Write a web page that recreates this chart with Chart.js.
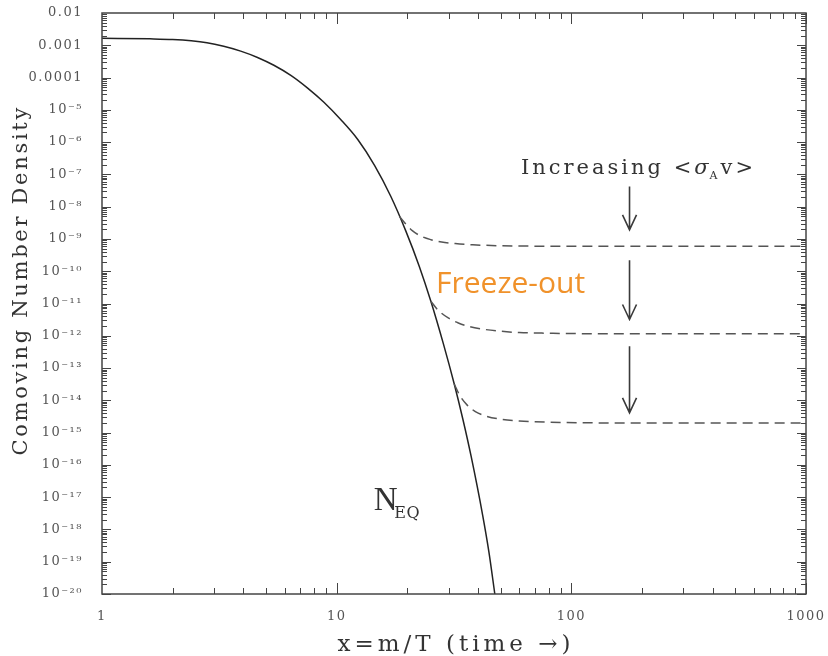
<!DOCTYPE html>
<html>
<head>
<meta charset="utf-8">
<script src="https://cdn.jsdelivr.net/npm/chart.js@4.4.1/dist/chart.umd.min.js"></script>
<style>
  html, body { margin: 0; padding: 0; background: #fff; }
</style>
</head>
<body>
<canvas id="freeze-chart" width="828" height="656"></canvas>
<script>
// tick values and labels
const xTicks = [1, 10, 100, 1000];
const xTickLabels = ["1", "10", "100", "1000"];
const yTicks = [1e-20, 1e-19, 1e-18, 1e-17, 1e-16, 1e-15, 1e-14, 1e-13, 1e-12, 1e-11,
  1e-10, 1e-9, 1e-8, 1e-7, 1e-6, 1e-5, 1e-4, 1e-3, 1e-2];
const yTickLabels = ["10⁻²⁰", "10⁻¹⁹", "10⁻¹⁸", "10⁻¹⁷", "10⁻¹⁶", "10⁻¹⁵", "10⁻¹⁴", "10⁻¹³",
  "10⁻¹²", "10⁻¹¹", "10⁻¹⁰", "10⁻⁹", "10⁻⁸", "10⁻⁷", "10⁻⁶", "10⁻⁵", "0.0001", "0.001", "0.01"];

// equilibrium curve (solid)
const neqX = [1, 1.6, 2.0, 2.4, 2.8, 3.3, 3.9, 4.6, 5.4, 6.4, 7.5, 8.8, 10.4, 12.3, 14.5,
  17.0, 19.7, 22.5, 25.2, 28.5, 31.7, 34.5, 37.4, 41.9, 44.5, 47.2];
const neqY = [1.66e-3, 1.58e-3, 1.51e-3, 1.38e-3, 1.20e-3, 9.3e-4, 6.6e-4, 4.2e-4, 2.4e-4,
  1.15e-4, 4.8e-5, 1.74e-5, 5.0e-6, 1.20e-6, 1.9e-7, 2.1e-8, 1.78e-9, 1.41e-10, 1.17e-11,
  5.6e-13, 3.2e-14, 2.6e-15, 1.86e-16, 2.75e-18, 2.1e-19, 1e-20];

// freeze-out branches (dashed)
const freeze1X = [18.5, 19.7, 21, 23, 25.2, 28, 32, 38, 48, 67, 100, 1000];
const freeze1Y = [5.0e-9, 2.9e-9, 1.8e-9, 1.2e-9, 9.5e-10, 8.0e-10, 7.2e-10, 6.6e-10,
  6.2e-10, 6.0e-10, 5.9e-10, 5.9e-10];
const freeze2X = [25.2, 27, 30, 33, 37, 42, 50, 60, 80, 150, 1000];
const freeze2Y = [1.17e-11, 6.3e-12, 3.5e-12, 2.5e-12, 1.9e-12, 1.6e-12, 1.38e-12,
  1.26e-12, 1.2e-12, 1.15e-12, 1.15e-12];
const freeze3X = [31.7, 33.5, 36, 39, 43, 50, 60, 80, 150, 1000];
const freeze3Y = [3.2e-14, 1.4e-14, 7.1e-15, 4.5e-15, 3.3e-15, 2.6e-15, 2.3e-15, 2.1e-15,
  2.0e-15, 2.0e-15];

// arrows (data units)
const arrowX = [177, 177, 177];
const arrowTop = [4.2e-8, 2.2e-10, 4.7e-13];
const arrowBottom = [1.9e-9, 3.2e-12, 4.1e-15];

const toPoints = (xs, ys) => xs.map((v, i) => ({ x: v, y: ys[i] }));

// inward frame ticks, arrows and labels
const frameTicks = {
  id: "frameTicks",
  beforeUpdate(chart) {
    chart.ctx.letterSpacing = "1.5px";
  },
  beforeDraw(chart) {
    chart.ctx.letterSpacing = "1.5px";
  },
  afterDatasetsDraw(chart) {
    const { ctx, chartArea: a, scales } = chart;
    const x = scales.x, y = scales.y;
    ctx.save();
    ctx.strokeStyle = "#444";
    ctx.lineWidth = 1.5;
    ctx.strokeRect(a.left, a.top, a.right - a.left, a.bottom - a.top);

    ctx.lineWidth = 1;
    ctx.beginPath();
    for (let d = 1; d < 1000; d *= 10) {
      for (let m = 2; m <= 10; m++) {
        const px = Math.round(x.getPixelForValue(d * m)) + 0.5;
        const len = m === 10 ? 11 : 6;
        ctx.moveTo(px, a.bottom); ctx.lineTo(px, a.bottom - len);
        ctx.moveTo(px, a.top); ctx.lineTo(px, a.top + len);
      }
    }
    for (let e = -20; e < -2; e++) {
      for (let m = 1; m <= 9; m++) {
        const py = Math.round(y.getPixelForValue(m * Math.pow(10, e))) + 0.5;
        const len = m === 1 ? 9 : 5;
        ctx.moveTo(a.left, py); ctx.lineTo(a.left + len, py);
        ctx.moveTo(a.right, py); ctx.lineTo(a.right - len, py);
      }
    }
    ctx.stroke();

    // arrows
    ctx.strokeStyle = "#3a3a3a";
    ctx.lineWidth = 1.6;
    arrowX.forEach((ax, i) => {
      const px = x.getPixelForValue(ax);
      const p0 = y.getPixelForValue(arrowTop[i]);
      const p1 = y.getPixelForValue(arrowBottom[i]);
      ctx.beginPath();
      ctx.moveTo(px, p0); ctx.lineTo(px, p1);
      ctx.moveTo(px - 7, p1 - 15); ctx.lineTo(px, p1); ctx.lineTo(px + 7, p1 - 15);
      ctx.stroke();
    });
    ctx.restore();
  },
  afterDraw(chart) {
    const { ctx, chartArea: a, scales } = chart;
    const x = scales.x, y = scales.y;
    ctx.save();
    ctx.fillStyle = "#333";

    // axis titles
    ctx.font = "21px 'DejaVu Serif'";
    ctx.letterSpacing = "2.7px";
    ctx.textAlign = "center";
    ctx.textBaseline = "middle";
    ctx.save();
    ctx.translate(22, a.top + (a.bottom - a.top) * 0.46);
    ctx.rotate(-Math.PI / 2);
    ctx.fillText("Comoving Number Density", 0, 0);
    ctx.restore();
    ctx.font = "23px 'DejaVu Serif'";
    ctx.letterSpacing = "4px";
    ctx.fillText("x=m/T (time →)", (a.left + a.right) / 2 + 2, 645);

    // Increasing <σ_A v>
    ctx.textAlign = "left";
    ctx.textBaseline = "alphabetic";
    ctx.font = "21px 'DejaVu Serif'";
    ctx.letterSpacing = "3px";
    let tx = x.getPixelForValue(61);
    const ty = y.getPixelForValue(1.0e-7);
    const part1 = "Increasing <";
    ctx.fillText(part1, tx, ty);
    tx += ctx.measureText(part1).width;
    ctx.font = "italic 21px 'DejaVu Serif'";
    ctx.fillText("σ", tx, ty);
    tx += ctx.measureText("σ").width;
    ctx.font = "11px 'DejaVu Serif'";
    ctx.letterSpacing = "0px";
    ctx.fillText("A", tx - 2, ty + 5);
    tx += 9;
    ctx.font = "21px 'DejaVu Serif'";
    ctx.letterSpacing = "3px";
    ctx.fillText("v>", tx, ty);

    // N_EQ
    ctx.letterSpacing = "0px";
    ctx.font = "33px 'Liberation Serif'";
    const nx = x.getPixelForValue(14.4);
    const ny = y.getPixelForValue(4.1e-18);
    ctx.fillText("N", nx, ny);
    ctx.font = "16px 'DejaVu Serif'";
    ctx.letterSpacing = "0.5px";
    ctx.fillText("EQ", nx + ctx.measureText("N").width + 6, ny + 8);

    // Freeze-out
    ctx.letterSpacing = "0px";
    ctx.fillStyle = "#F0922B";
    ctx.font = "30px 'Open Sans'";
    ctx.textBaseline = "middle";
    ctx.fillText("Freeze-out", x.getPixelForValue(26.5), y.getPixelForValue(3.8e-11));
    ctx.restore();
  }
};

const dashed = {
  borderColor: "#555",
  borderWidth: 1.5,
  borderDash: [10, 6],
  pointRadius: 0,
  fill: false,
  cubicInterpolationMode: "monotone"
};

new Chart(document.getElementById("freeze-chart"), {
  type: "line",
  data: {
    datasets: [
      { ...dashed, label: "freeze1", data: toPoints(freeze1X, freeze1Y) },
      { ...dashed, label: "freeze2", data: toPoints(freeze2X, freeze2Y) },
      { ...dashed, label: "freeze3", data: toPoints(freeze3X, freeze3Y) },
      {
        label: "N_EQ",
        data: toPoints(neqX, neqY),
        borderColor: "#222",
        borderWidth: 1.5,
        pointRadius: 0,
        fill: false,
        cubicInterpolationMode: "monotone"
      }
    ]
  },
  options: {
    responsive: false,
    animation: false,
    devicePixelRatio: 1,
    layout: { padding: { top: 13, right: 22, left: 0, bottom: 0 } },
    plugins: { legend: { display: false }, tooltip: { enabled: false } },
    scales: {
      x: {
        type: "logarithmic",
        min: 1,
        max: 1000,
        grid: { display: false },
        border: { display: false },
        afterBuildTicks: (scale) => { scale.ticks = xTicks.map((v) => ({ value: v })); },
        afterFit: (scale) => {
          scale.height = 62;
          scale.paddingLeft = 0;
          scale.paddingRight = 0;
        },
        ticks: {
          color: "#555",
          font: { family: "DejaVu Serif", size: 13 },
          padding: 7,
          maxRotation: 0,
          callback: (value, index) => xTickLabels[index]
        }
      },
      y: {
        type: "logarithmic",
        min: 1e-20,
        max: 1e-2,
        grid: { display: false },
        border: { display: false },
        afterBuildTicks: (scale) => { scale.ticks = yTicks.map((v) => ({ value: v })); },
        afterFit: (scale) => {
          scale.width = 102;
          scale.paddingTop = 0;
          scale.paddingBottom = 0;
        },
        ticks: {
          color: "#555",
          font: { family: "DejaVu Serif", size: 13 },
          padding: 11,
          autoSkip: false,
          callback: (value, index) => yTickLabels[index]
        }
      }
    }
  },
  plugins: [frameTicks]
});
</script>
</body>
</html>
